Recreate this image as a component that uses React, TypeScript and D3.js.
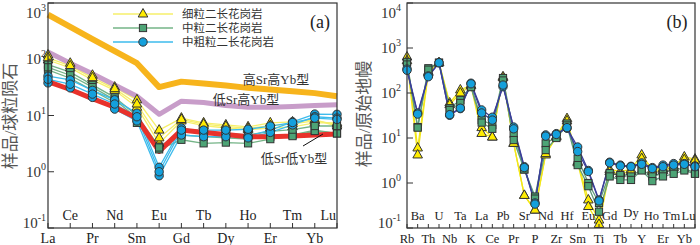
import React from 'react';
import * as d3 from 'd3';

// ---------- Panel (a): chondrite-normalized REE ----------
const REE = ['La', 'Ce', 'Pr', 'Nd', 'Sm', 'Eu', 'Gd', 'Tb', 'Dy', 'Ho', 'Er', 'Tm', 'Yb', 'Lu'];
const fineREE = [
  [119, 85, 52, 32, 19, 5.5, 9, 7.4, 6.8, 6.3, 7.4, 7.7, 8.4, 6.5],
  [97, 70, 43, 28, 14, 3.2, 8, 6.6, 6.0, 5.6, 6.0, 6.3, 7.4, 7.4],
  [106, 76, 47, 30, 16, 4.0, 8.5, 7.0, 6.4, 5.9, 6.6, 7.1, 8.0, 7.0],
];
const mediumREE = [
  [80, 59, 35, 21, 10, 2.8, 4.5, 4.2, 4.0, 3.8, 4.2, 4.5, 5.5, 4.8],
  [65, 46, 28, 17, 7.4, 2.5, 3.7, 3.2, 3.3, 3.2, 3.8, 4.3, 5.3, 4.8],
  [72, 52, 32, 19, 9, 2.7, 5.5, 5.2, 4.8, 4.5, 5.2, 5.6, 6.5, 6.5],
];
const coarseREE = [
  [50, 43, 28, 19, 11, 1.2, 6, 5, 4.8, 4.3, 5.5, 7.7, 10.6, 10.5],
  [38, 31, 21, 13, 8, 0.85, 4.5, 4.2, 4.2, 4.0, 5.0, 6.8, 9.5, 9.0],
  [44, 36, 24, 16, 9.5, 1.0, 5.5, 5.5, 5.5, 5.7, 6.5, 7.5, 9.0, 8.5],
];
const highSrHighYb = [620, 377, 229, 139, 85, 32, 40, 37, 34, 31, 29, 27, 25, 22];
const lowSrHighYb = [135, 85, 55, 35, 22, 10.5, 18, 17, 15, 14, 14, 14.5, 15, 15.5];
const lowSrLowYb = [40, 29, 20, 14, 9, 2.3, 5.5, 5, 4.6, 4.2, 4.2, 4.3, 4.5, 4.7];
const yTicksA = [0.1, 1, 10, 100, 1000];

// ---------- Panel (b): primitive-mantle-normalized spider ----------
const SPIDER = ['Rb', 'Ba', 'Th', 'U', 'Nb', 'Ta', 'K', 'La', 'Ce', 'Pb', 'Pr', 'Sr', 'P', 'Nd', 'Zr', 'Hf', 'Sm', 'Eu', 'Ti', 'Gd', 'Tb', 'Dy', 'Y', 'Ho', 'Er', 'Tm', 'Yb', 'Lu'];
const fineSp = [
  [630, 6, 300, 470, 60, 117, 150, 17, 10.5, 230, 7.6, 0.53, 0.25, 4.2, 11, 27, 3.0, 0.42, 0.15, 2.0, 1.8, 2.0, 4.2, 2.0, 2.1, 2.4, 3.8, 3.4],
  [520, 4.2, 280, 470, 55, 100, 145, 12.6, 10.5, 220, 7.6, 0.53, 0.25, 4.5, 10.5, 24, 2.8, 0.3, 0.12, 1.8, 1.6, 1.8, 3.5, 1.8, 1.9, 2.2, 3.3, 3.2],
];
const mediumSp = [
  [490, 17.5, 355, 470, 46, 70, 140, 25, 19.5, 215, 12.5, 2.0, 0.5, 7.6, 10.5, 21, 3.5, 1.0, 0.36, 1.66, 1.5, 1.4, 2.0, 1.4, 1.66, 2.0, 2.1, 1.66],
  [430, 17, 330, 470, 42, 60, 135, 22, 16, 190, 9, 2.0, 0.45, 5.4, 10, 19, 2.5, 0.85, 0.23, 1.4, 1.17, 1.17, 1.9, 1.1, 1.4, 1.6, 1.9, 1.6],
];
const coarseSp = [
  [340, 36, 240, 470, 32, 45, 165, 42, 29, 138, 17.5, 2.3, 0.36, 11.7, 12.5, 16.5, 6.3, 1.9, 0.42, 2.9, 2.5, 2.35, 2.8, 2.2, 2.5, 2.7, 2.7, 2.4],
  [320, 34, 230, 470, 33, 46, 160, 36, 25, 150, 16, 2.2, 0.34, 11, 12, 17, 5.0, 1.8, 0.4, 2.8, 2.4, 2.3, 2.6, 2.1, 2.3, 2.5, 2.6, 2.3],
];
const yTicksB = [0.1, 1, 10, 100, 1000, 10000];

const legendLabels = ['细粒二长花岗岩', '中粒二长花岗岩', '中粗粒二长花岗岩'];
const refLabels = ['高Sr高Yb型', '低Sr高Yb型', '低Sr低Yb型'];

const SERIF = '"Liberation Serif", "Times New Roman", serif';
const CJK = '"Liberation Serif", "Noto Sans CJK SC", serif';

type Kind = 'tri' | 'sq' | 'circ';

function Marker({ kind, x, y, fill }: { kind: Kind; x: number; y: number; fill: string }) {
  if (kind === 'tri') {
    return <path d={`M${x},${y - 5.5}L${x + 4.8},${y + 3}L${x - 4.8},${y + 3}Z`} fill={fill} stroke="#333" strokeWidth={1} />;
  }
  if (kind === 'sq') {
    return <rect x={x - 3.6} y={y - 3.6} width={7.2} height={7.2} fill={fill} stroke="#333" strokeWidth={1} />;
  }
  return <circle cx={x} cy={y} r={4.2} fill={fill} stroke="#333" strokeWidth={1} />;
}

function TickLabel({ x, y, v }: { x: number; y: number; v: number }) {
  const e = Math.round(Math.log10(v));
  return (
    <text x={x} y={y + 5} textAnchor="end" fontFamily={SERIF} fontSize={15} fill="#333">
      <tspan>10</tspan>
      <tspan dy={-7} fontSize={10}>{String(e)}</tspan>
    </text>
  );
}

// small label nudges for crowded panel (b) labels
const labelShiftB: Record<string, number> = { Tm: -2, Ho: -1 };

export default function App() {
  // scales (a)
  const xA = d3.scalePoint<string>().domain(REE).range([48, 337]);
  const yA = d3.scaleLog().domain([0.1, 1000]).range([228, 3]);
  // scales (b)
  const xB = d3.scalePoint<string>().domain(SPIDER).range([407, 695]);
  const yB = d3.scaleLog().domain([0.1, 10000]).range([228, 3]);

  const lineA = d3.line<number>().x((_, i) => xA(REE[i]) as number).y((d) => yA(d));
  const lineB = d3.line<number>().x((_, i) => xB(SPIDER[i]) as number).y((d) => yB(d));

  const groupsA: { data: number[][]; line: string; fill: string; kind: Kind }[] = [
    { data: fineREE, line: '#f6ef6a', fill: '#ffec00', kind: 'tri' },
    { data: mediumREE, line: '#74b487', fill: '#4da476', kind: 'sq' },
    { data: coarseREE, line: '#3dbbec', fill: '#14a0dc', kind: 'circ' },
  ];
  const groupsB: { data: number[][]; line: string; fill: string; kind: Kind }[] = [
    { data: fineSp, line: '#f2e61a', fill: '#ffec00', kind: 'tri' },
    { data: mediumSp, line: '#5f9c7c', fill: '#4da476', kind: 'sq' },
    { data: coarseSp, line: '#3b3f99', fill: '#14a0dc', kind: 'circ' },
  ];

  const clampLabelY = (y: number) => Math.max(13, Math.min(223, y));

  return (
    <svg width={700} height={245} style={{ position: 'absolute', left: 0, top: 0, background: '#fff' }}>
      {/* ================= Panel (a) ================= */}
      <g>
        {groupsA.map((g, gi) =>
          g.data.map((s, si) => (
            <path key={`la${gi}-${si}`} d={lineA(s) || ''} fill="none" stroke={g.line} strokeWidth={1.3} />
          ))
        )}
        <path d={lineA(highSrHighYb) || ''} fill="none" stroke="#f7b41c" strokeWidth={6} strokeLinejoin="round" />
        <path d={lineA(lowSrHighYb) || ''} fill="none" stroke="#c89dc9" strokeWidth={5} strokeLinejoin="round" />
        <path d={lineA(lowSrLowYb) || ''} fill="none" stroke="#e8322b" strokeWidth={5} strokeLinejoin="round" />
        {groupsA.map((g, gi) =>
          g.data.map((s, si) =>
            s.map((v, i) => (
              <Marker key={`ma${gi}-${si}-${i}`} kind={g.kind} x={xA(REE[i]) as number} y={yA(v)} fill={g.fill} />
            ))
          )
        )}
        {/* frame */}
        <rect x={48} y={3} width={289} height={225} fill="none" stroke="#333" strokeWidth={1.2} />
        {/* y ticks */}
        {yTicksA.map((t) => (
          <g key={`ya${t}`}>
            <line x1={48} x2={54} y1={yA(t)} y2={yA(t)} stroke="#333" />
            <TickLabel x={46} y={clampLabelY(yA(t))} v={t} />
          </g>
        ))}
        {/* x ticks & labels */}
        {REE.map((el, i) => {
          const x = xA(el) as number;
          const last = i === REE.length - 1;
          return (
            <g key={`xa${el}`}>
              <line x1={x} x2={x} y1={228} y2={223} stroke="#333" />
              <text x={last ? 336 : x} y={i % 2 === 1 ? 220 : 243} textAnchor={last ? 'end' : 'middle'} fontFamily={SERIF} fontSize={14} fill="#222">
                {el}
              </text>
            </g>
          );
        })}
        {/* y label */}
        <text transform="translate(16,116) rotate(-90)" textAnchor="middle" fontFamily={CJK} fontSize={17} fill="#555">
          样品/球粒陨石
        </text>
        {/* panel tag */}
        <text x={320} y={28} textAnchor="middle" fontFamily={SERIF} fontSize={18} fill="#222">(a)</text>
        {/* reference labels */}
        <text x={276} y={84} textAnchor="middle" fontFamily={CJK} fontSize={13} fill="#333">{refLabels[0]}</text>
        <text x={246} y={104} textAnchor="middle" fontFamily={CJK} fontSize={13} fill="#333">{refLabels[1]}</text>
        <text x={294} y={163} textAnchor="middle" fontFamily={CJK} fontSize={13} fill="#333">{refLabels[2]}</text>
        <line x1={303} y1={146} x2={323} y2={134} stroke="#111" strokeWidth={1} />
        {/* legend */}
        {groupsA.map((g, gi) => {
          const y = 14 + gi * 14;
          return (
            <g key={`lg${gi}`}>
              <line x1={113} x2={173} y1={y} y2={y} stroke={g.line} strokeWidth={1.5} />
              <Marker kind={g.kind} x={143} y={y} fill={g.fill} />
              <text x={182} y={y + 4} fontFamily={CJK} fontSize={11.5} fill="#333">{legendLabels[gi]}</text>
            </g>
          );
        })}
      </g>

      {/* ================= Panel (b) ================= */}
      <g>
        {groupsB.map((g, gi) =>
          g.data.map((s, si) => (
            <path key={`lb${gi}-${si}`} d={lineB(s) || ''} fill="none" stroke={g.line} strokeWidth={1.3} />
          ))
        )}
        {groupsB.map((g, gi) =>
          g.data.map((s, si) =>
            s.map((v, i) => (
              <Marker key={`mb${gi}-${si}-${i}`} kind={g.kind} x={xB(SPIDER[i]) as number} y={yB(v)} fill={g.fill} />
            ))
          )
        )}
        <rect x={407} y={3} width={288} height={225} fill="none" stroke="#333" strokeWidth={1.2} />
        {yTicksB.map((t) => (
          <g key={`yb${t}`}>
            <line x1={407} x2={413} y1={yB(t)} y2={yB(t)} stroke="#333" />
            <TickLabel x={401} y={clampLabelY(yB(t))} v={t} />
          </g>
        ))}
        {SPIDER.map((el, i) => {
          const x = xB(el) as number;
          const last = i === SPIDER.length - 1;
          return (
            <g key={`xb${el}`}>
              <line x1={x} x2={x} y1={228} y2={224} stroke="#333" />
              <text
                x={last ? 695.5 : x + (labelShiftB[el] || 0)}
                y={i % 2 === 1 ? (el === 'Dy' ? 217 : 220) : 243}
                textAnchor={last ? 'end' : 'middle'}
                fontFamily={SERIF}
                fontSize={12.5}
                fill="#222"
              >
                {el}
              </text>
            </g>
          );
        })}
        <text transform="translate(370,114) rotate(-90)" textAnchor="middle" fontFamily={CJK} fontSize={17} fill="#555">
          样品/原始地幔
        </text>
        <text x={677} y={28} textAnchor="middle" fontFamily={SERIF} fontSize={18} fill="#222">(b)</text>
      </g>
    </svg>
  );
}
